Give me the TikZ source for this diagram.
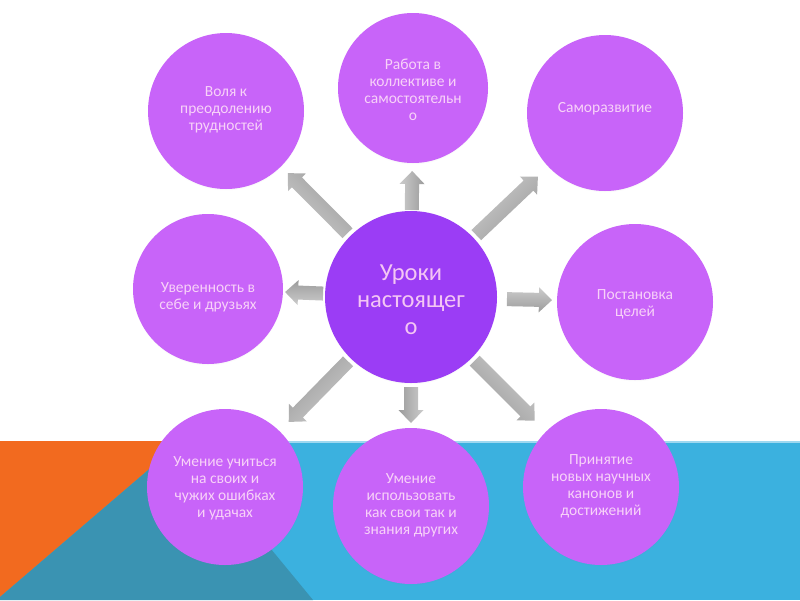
\documentclass[tikz,border=0pt]{standalone}
\usepackage{fontspec}
\setmainfont{Carlito}
\usetikzlibrary{calc,shadows}
\definecolor{bandblue}{HTML}{3BB1DF}
\definecolor{bandlight}{HTML}{9ED8F0}
\definecolor{orangec}{HTML}{F26A1F}
\definecolor{tealc}{HTML}{3A93B2}
\definecolor{circfill}{HTML}{C864F9}
\definecolor{centfill}{HTML}{9B3DF5}
\definecolor{txtpink}{HTML}{F8D2F8}
\definecolor{centtxt}{HTML}{F4C6F4}
\tikzset{
  outer/.style={circle, fill=circfill, minimum size=156pt, inner sep=0pt,
    circular drop shadow={shadow xshift=0pt, shadow yshift=-1.5pt, opacity=.25, shadow scale=1.0}},
  centre/.style={circle, fill=centfill, minimum size=172pt, inner sep=0pt,
    circular drop shadow={shadow xshift=0pt, shadow yshift=-1.5pt, opacity=.25, shadow scale=1.0}},
  lbl/.style={text=txtpink, align=center, font=\fontsize{15.5}{17}\selectfont, inner sep=0pt},
  clbl/.style={text=centtxt, align=center, font=\fontsize{24.5}{27}\selectfont, inner sep=0pt},
  arrowshade/.style={top color=gray!40, bottom color=gray!78},
  blockarrow/.style={to path={let \p1=(\tikztostart), \p2=(\tikztotarget),
    \n1={atan2(\y2-\y1,\x2-\x1)}, \n2={veclen(\x2-\x1,\y2-\y1)} in
    ([shift={(\p1)},rotate=\n1]0pt,-7pt) --
    ([shift={(\p1)},rotate=\n1]{\n2-13pt},-7pt) --
    ([shift={(\p1)},rotate=\n1]{\n2-13pt},-12.5pt) --
    ([shift={(\p1)},rotate=\n1]{\n2},0pt) --
    ([shift={(\p1)},rotate=\n1]{\n2-13pt},12.5pt) --
    ([shift={(\p1)},rotate=\n1]{\n2-13pt},7pt) --
    ([shift={(\p1)},rotate=\n1]0pt,7pt) -- cycle}}
}
\begin{document}
\begin{tikzpicture}[x=1pt,y=-1pt]
\useasboundingbox (0,0) rectangle (800,600);
\fill[white] (0,0) rectangle (800,600);
% background band
\fill[bandblue] (0,441) rectangle (800,600);
\fill[bandlight] (0,441) rectangle (800,443);
\fill[orangec] (0,441) -- (182,441) -- (0,597) -- cycle;
\fill[tealc] (182,441) -- (313,600) -- (0,600) -- (0,597) -- cycle;

% circles
\node[centre] (c) at (411,297) {};
\node[outer] (ul) at (226,111) {};
\node[outer, minimum size=150pt] (up) at (413,88) {};
\node[outer] (ur) at (605,113) {};
\node[outer, minimum size=150pt] (lf) at (208,289) {};
\node[outer] (rt) at (635,302) {};
\node[outer] (ll) at (225,487) {};
\node[outer] (dn) at (411,506) {};
\node[outer] (lr) at (601,487) {};

% texts
\node[clbl] (tc) at (411,300) {Уроки\\настоящег\\о};
\node[lbl] (tul) at (226,110) {Воля к\\преодолению\\трудностей};
\node[lbl] (tup) at (413,90) {Работа в\\коллективе и\\самостоятельн\\о};
\node[lbl] (tur) at (605,109) {Саморазвитие};
\node[lbl] (tlf) at (208,297) {Уверенность в\\себе и друзьях};
\node[lbl] (trt) at (635,304) {Постановка\\целей};
\node[lbl] (tll) at (225,488) {Умение учиться\\на своих и\\чужих ошибках\\и удачах};
\node[lbl] (tdn) at (411,505) {Умение\\использовать\\как свои так и\\знания других};
\node[lbl] (tlr) at (601,486) {Принятие\\новых научных\\канонов и\\достижений};

% arrow end points
\coordinate (sUp) at ($(c)!87pt!(up)$);   \coordinate (eUp) at ($(c)!126pt!(up)$);
\coordinate (sDn) at ($(c)!90pt!(dn)$);   \coordinate (eDn) at ($(c)!126pt!(dn)$);
\coordinate (sLf) at ($(c)!88pt!(lf)$);   \coordinate (eLf) at ($(c)!126pt!(lf)$);
\coordinate (sRt) at ($(c)!96pt!(rt)$);   \coordinate (eRt) at ($(c)!141pt!(rt)$);
\coordinate (sUl) at ($(c)!90pt!(ul)$);   \coordinate (eUl) at ($(c)!175pt!(ul)$);
\coordinate (sUr) at ($(c)!90pt!(ur)$);   \coordinate (eUr) at ($(c)!175pt!(ur)$);
\coordinate (sLl) at ($(c)!90pt!(ll)$);   \coordinate (eLl) at ($(c)!175pt!(ll)$);
\coordinate (sLr) at ($(c)!90pt!(lr)$);   \coordinate (eLr) at ($(c)!175pt!(lr)$);

% arrows
\path[arrowshade, shading angle=90]  (sUp) to[blockarrow] (eUp);
\path[arrowshade, shading angle=270] (sDn) to[blockarrow] (eDn);
\path[arrowshade, shading angle=180] (sLf) to[blockarrow] (eLf);
\path[arrowshade, shading angle=0]   (sRt) to[blockarrow] (eRt);
\path[arrowshade, shading angle=135] (sUl) to[blockarrow] (eUl);
\path[arrowshade, shading angle=45]  (sUr) to[blockarrow] (eUr);
\path[arrowshade, shading angle=225] (sLl) to[blockarrow] (eLl);
\path[arrowshade, shading angle=315] (sLr) to[blockarrow] (eLr);
\end{tikzpicture}
\end{document}
